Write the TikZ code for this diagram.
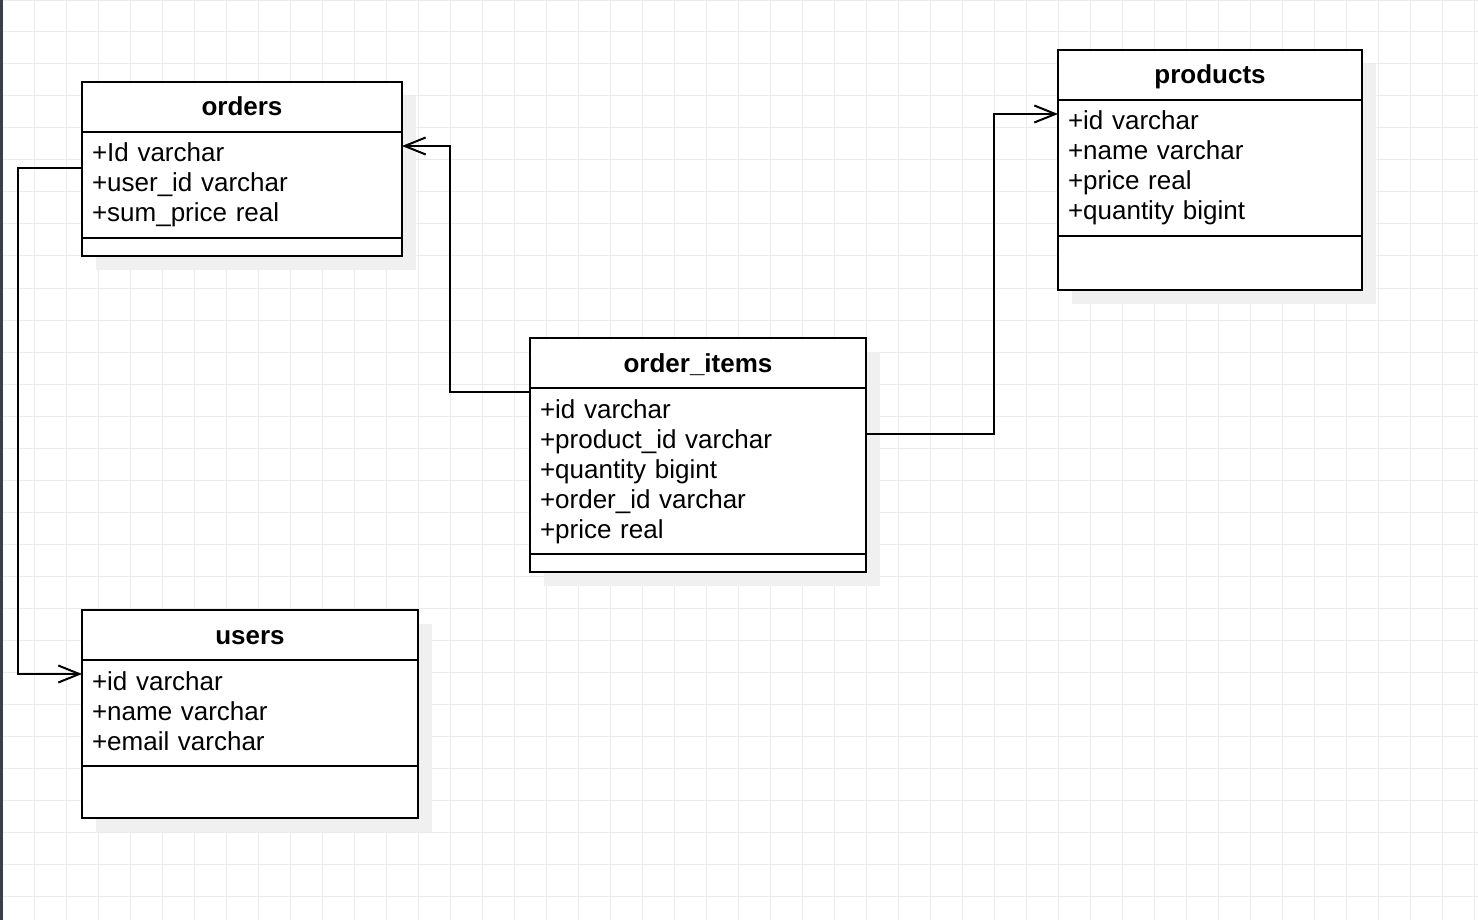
\documentclass[tikz,border=0pt]{standalone}
\usepackage{fontspec}
\setmainfont{Liberation Sans}
\usepackage{tikz}
\usetikzlibrary{positioning, arrows.meta, shadows}
\definecolor{gridgray}{HTML}{EBEBEB}
\definecolor{shadowgray}{HTML}{F0F0F0}
\definecolor{edgegray}{HTML}{3B3E43}
\newcommand{\rowstrut}{\rule[-8pt]{0pt}{30pt}}
\tikzset{
    classbox/.style={draw, line width=2pt, fill=white, inner sep=0pt, outer sep=0pt,
        drop shadow={shadow xshift=14pt, shadow yshift=-14pt, fill=shadowgray, opacity=1}},
    classhead/.style={classbox, minimum width=#1, minimum height=50pt,
        font=\fontsize{26}{30}\selectfont\bfseries, text height=19pt, text depth=1pt},
    classattrs/.style={classbox, text width=#1, align=left, inner xsep=10pt, inner ysep=8pt,
        font=\fontsize{26}{30}\selectfont},
    classops/.style 2 args={classbox, minimum width=#1, minimum height=#2},
    link/.style={line width=2pt, -{Straight Barb[length=21pt, width=17pt]}}
}

\begin{document}
\begin{tikzpicture}[x=1pt, y=-1pt]
    \useasboundingbox (0,0) rectangle (1478,920);
    % Canvas grid
    \draw [gridgray, line width=1pt, xshift=2.5pt] (-2.5,0) grid[step=32pt] (1475.5,920);
    \fill [edgegray] (0,0) rectangle (2.5,920);
    % orders
    \node [classhead=320pt, anchor=north west] (orders) at (82,82) {orders};
    \node [classattrs=300pt, below=0pt of orders] (orders-attrs)
        {\rowstrut+Id varchar\\ \rowstrut+user\_id varchar\\ \rowstrut+sum\_price real};
    \node [classops={320pt}{18pt}, below=0pt of orders-attrs] (orders-ops) {};
    % users
    \node [classhead=336pt, anchor=north west] (users) at (82,610) {users};
    \node [classattrs=316pt, below=0pt of users] (users-attrs)
        {\rowstrut+id varchar\\ \rowstrut+name varchar\\ \rowstrut+email varchar};
    \node [classops={336pt}{52pt}, below=0pt of users-attrs] (users-ops) {};
    % order_items
    \node [classhead=336pt, anchor=north west] (items) at (530,338) {order\_items};
    \node [classattrs=316pt, below=0pt of items] (items-attrs)
        {\rowstrut+id varchar\\ \rowstrut+product\_id varchar\\ \rowstrut+quantity bigint\\
         \rowstrut+order\_id varchar\\ \rowstrut+price real};
    \node [classops={336pt}{18pt}, below=0pt of items-attrs] (items-ops) {};
    % products
    \node [classhead=304pt, anchor=north west] (products) at (1058,50) {products};
    \node [classattrs=284pt, below=0pt of products] (products-attrs)
        {\rowstrut+id varchar\\ \rowstrut+name varchar\\ \rowstrut+price real\\ \rowstrut+quantity bigint};
    \node [classops={304pt}{54pt}, below=0pt of products-attrs] (products-ops) {};
    % References
    \draw [link] ([yshift=-36pt]orders-attrs.north west) -- ++(-64,0)
        |- ([yshift=-14pt]users-attrs.north west);
    \draw [link] ([yshift=-4pt]items-attrs.north west) -- ++(-80,0)
        |- ([yshift=-14pt]orders-attrs.north east);
    \draw [link] ([yshift=-46pt]items-attrs.north east) -- ++(128,0)
        |- ([yshift=-14pt]products-attrs.north west);
\end{tikzpicture}
\end{document}
